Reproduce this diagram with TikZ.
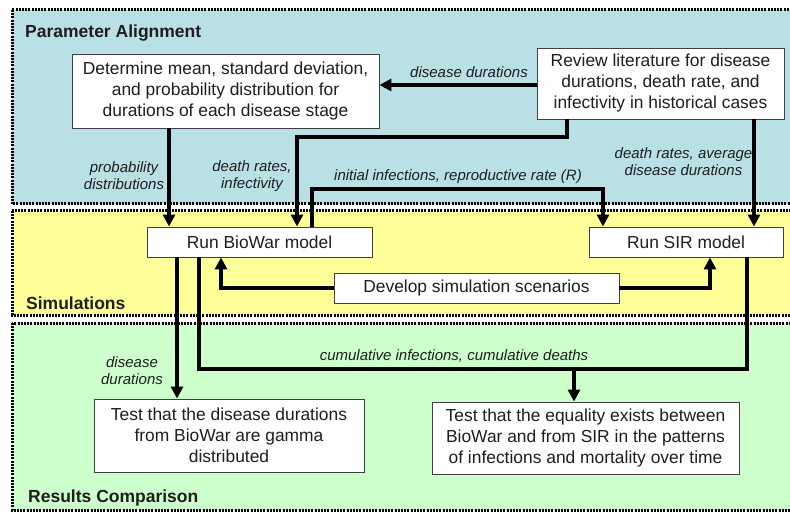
\documentclass[tikz,border=0pt]{standalone}
\usepackage{fontspec}
\setmainfont{Liberation Sans}
\usetikzlibrary{arrows.meta,positioning}
\definecolor{ParamClr}{RGB}{185,224,229}
\definecolor{SimClr}{RGB}{255,255,153}
\definecolor{ResClr}{RGB}{204,255,204}
\definecolor{TxtClr}{RGB}{30,30,30}

\tikzset{
  band/.style={line width=3pt,dash pattern=on 2pt off 1.2pt},
  bandlbl/.style={anchor=west,inner sep=0pt,font=\fontsize{17.5}{21}\selectfont\bfseries,text=TxtClr},
  procbox/.style={draw=black!75,fill=white,line width=0.9pt,inner sep=0pt,align=center,
    font=\fontsize{17.4}{21}\selectfont,text=TxtClr},
  lbl/.style={inner sep=0pt,align=center,font=\fontsize{15}{17}\selectfont\itshape,text=TxtClr},
  thk/.style={line width=4.5pt,-{Triangle[length=12pt,width=12pt]}},
  thn/.style={line width=3.2pt,-{Triangle[length=12pt,width=12pt]}},
}

\begin{document}
\begin{tikzpicture}[x=1pt,y=-1pt]
\useasboundingbox (0,0) rectangle (790,513);
\clip (0,0) rectangle (790,513);

% bands
\fill[ParamClr] (12,10) rectangle (800,204);
\draw[band] (12,10) rectangle (800,204);
\fill[SimClr] (12,211) rectangle (800,315);
\draw[band] (12,211) rectangle (800,315);
\fill[ResClr] (12,323) rectangle (800,510);
\draw[band] (12,323) rectangle (800,510);

\node[bandlbl] (pa) at (25,33) {Parameter Alignment};
\node[bandlbl] (sm) at (26,303) {Simulations};
\node[bandlbl] (rc) at (28,498) {Results Comparison};

% boxes
\node[procbox,minimum width=307pt,minimum height=74pt] (det) at (225.5,91)
  {Determine mean, standard deviation,\\and probability distribution for\\durations of each disease stage};
\node[procbox,minimum width=247pt,minimum height=71pt] (rev) at (660.5,83.5)
  {Review literature for disease\\durations, death rate, and\\infectivity in historical cases};
\node[procbox,minimum width=225pt,minimum height=30pt] (bio) at (259.5,242) {Run BioWar model};
\node[procbox,minimum width=194pt,minimum height=30pt] (sir) at (686,242) {Run SIR model};
\node[procbox,minimum width=285pt,minimum height=30pt] (dev) at (476.5,288) {Develop simulation scenarios};
\node[procbox,minimum width=270pt,minimum height=73pt] (tgam) at (229,435.5)
  {Test that the disease durations\\from BioWar are gamma\\distributed};
\node[procbox,minimum width=307pt,minimum height=72pt] (tsir) at (585.5,438)
  {Test that the equality exists between\\BioWar and from SIR in the patterns\\of infections and mortality over time};

% routing points
\coordinate (xa) at (169,0);
\coordinate (r1) at (567,137);
\coordinate (r2) at (297,137);
\coordinate (b1) at (312,189);
\coordinate (b2) at (603,189);
\coordinate (s1) at (754,0);
\coordinate (d1) at (221,288);
\coordinate (d2) at (710,288);
\coordinate (g1) at (177,0);
\coordinate (c1) at (199,369);
\coordinate (c2) at (747,369);
\coordinate (c3) at (574,369);

% connectors
\draw[thk] (rev.west |- 0,85) -- (det.east |- 0,85);
\draw[thk] (det.south -| xa) -- (bio.north -| xa);
\draw[thn] (rev.south -| r1) -- (r1) -- (r2) -- (bio.north -| r2);
\draw[thn] (bio.north -| b1) -- (b1) -- (b2) -- (sir.north -| b2);
\draw[thk] (rev.south -| s1) -- (sir.north -| s1);
\draw[thk] (dev.west) -- (d1) -- (bio.south -| d1);
\draw[thk] (dev.east) -- (d2) -- (sir.south -| d2);
\draw[thk] (bio.south -| g1) -- (tgam.north -| g1);
\draw[line width=3.5pt] (bio.south -| c1) -- (c1) -- (c2) -- (sir.south -| c2);
\draw[thk] (c3) -- (tsir.north -| c3);

% connector labels
\node[lbl] (l1) at (469,72) {disease durations};
\node[lbl] (l2) at (124,176) {probability\\distributions};
\node[lbl] (l3) at (252,176) {death rates,\\infectivity};
\node[lbl] (l4) at (458,177) {initial infections, reproductive rate (R)};
\node[lbl] (l5) at (683.5,161.5) {death rates, average\\disease durations};
\node[lbl] (l6) at (132,371) {disease\\durations};
\node[lbl] (l7) at (454,356) {cumulative infections, cumulative deaths};

\end{tikzpicture}
\end{document}
